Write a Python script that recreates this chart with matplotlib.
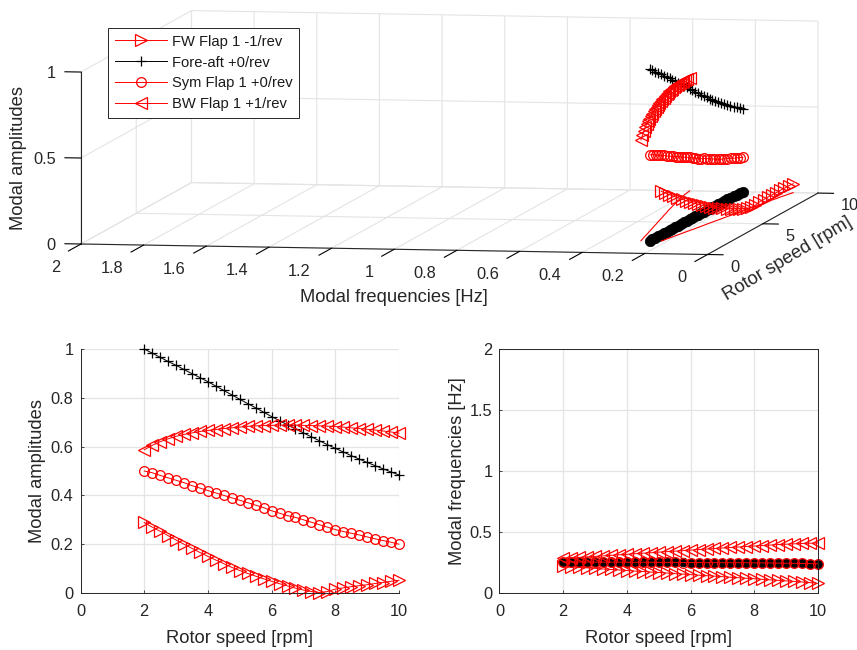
import matplotlib
matplotlib.use('Agg')
import matplotlib.pyplot as plt
from mpl_toolkits.mplot3d import proj3d

plt.rcParams['font.family'] = ['Liberation Sans', 'DejaVu Sans']

rotor = [2, 2.25, 2.5, 2.75, 3, 3.25, 3.5, 3.75, 4, 4.25, 4.5, 4.75, 5, 5.25, 5.5, 5.75, 6,
         6.25, 6.5, 6.75, 7, 7.25, 7.5, 7.75, 8, 8.25, 8.5, 8.75, 9, 9.25, 9.5, 9.75, 10]

amp_fw = [.289, .27, .253, .235, .217, .2, .183, .166, .15, .135, .12, .105, .092, .08, .069, .058, .048,
          .038, .029, .02, .012, .006, .002, .006, .016, .021, .026, .03, .034, .039, .043, .048, .052]
amp_fore = [1.0, .983, .966, .949, .933, .916, .899, .883, .866, .848, .83, .812, .794, .776, .759, .741, .723,
            .706, .689, .672, .656, .64, .624, .608, .593, .578, .563, .549, .535, .522, .509, .496, .484]
amp_sym = [.5, .493, .482, .472, .462, .452, .44, .43, .42, .41, .4, .39, .38, .37, .36, .35, .337,
           .327, .317, .31, .3, .29, .28, .27, .26, .252, .245, .238, .23, .222, .215, .208, .2]
amp_bw = [.587, .605, .62, .632, .642, .65, .656, .662, .666, .67, .674, .677, .68, .683, .685, .686, .687,
          .688, .688, .688, .687, .686, .685, .684, .682, .68, .677, .674, .671, .668, .664, .66, .655]

freq_fw = [.218, .214, .21, .206, .202, .197, .193, .189, .184, .18, .176, .172, .168, .164, .159, .155, .151,
           .146, .142, .138, .134, .129, .125, .121, .117, .112, .108, .104, .099, .095, .09, .085, .079]
freq_fore = [.255, .255, .255, .254, .254, .254, .254, .253, .253, .253, .252, .252, .252, .252, .251, .251, .25,
             .25, .25, .25, .249, .249, .249, .248, .248, .247, .247, .246, .245, .243, .242, .241, .24]
freq_sym = [.254, .254, .254, .254, .253, .253, .253, .253, .252, .252, .252, .252, .251, .251, .251, .25, .25,
            .25, .249, .249, .249, .248, .248, .248, .247, .247, .246, .245, .244, .243, .242, .241, .24]
freq_bw = [.283, .287, .292, .296, .3, .304, .309, .313, .317, .322, .326, .33, .335, .339, .343, .347, .352,
           .356, .36, .365, .369, .373, .377, .381, .385, .389, .393, .397, .4, .403, .406, .408, .41]
floor = [0] * len(rotor)

freq_ticks = [0, .2, .4, .6, .8, 1, 1.2, 1.4, 1.6, 1.8, 2]
freq_labels = ['0', '0.2', '0.4', '0.6', '0.8', '1', '1.2', '1.4', '1.6', '1.8', '2']
rotor_ticks3d = [0, 5, 10]
amp_ticks3d = [0, .5, 1]
amp_labels3d = ['0', '0.5', '1']

dark = '#262626'
light = '#e4e4e4'
W, H = 857, 650
tick_fs = 11.8
label_fs = 13.2

fig = plt.figure(figsize=(W / 100, H / 100), dpi=100)

# 3d plot, view worked out from the corners of the box in the reference
ax = fig.add_axes([0, 0, H / W, 1], projection='3d', proj_type='ortho', computed_zorder=False)
ax.set_box_aspect((636, 646, 172.8))
ax.view_init(elev=5.54, azim=-80.15)
ax.set_xlim(2, 0)
ax.set_ylim(0, 10)
ax.set_zlim(0, 1)

M = ax.get_proj()


def to_axes(f, r, z):
    x, y, _ = proj3d.proj_transform(f, r, z, M)
    return ax.transAxes.inverted().transform(ax.transData.transform((x, y)))


def label3d(f, r, z, s, ha):
    x, y, _ = proj3d.proj_transform(f, r, z, M)
    ax.text2D(x, y, s, transform=ax.transData, ha=ha, va='center', fontsize=tick_fs, color=dark)


p0 = to_axes(2, 0, 0)
p1 = to_axes(0, 10, 0)
S = (818 - 81) / (p1[0] - p0[0])
ax.set_position([(81 - S * p0[0]) / W, (H - 244 - S * p0[1]) / H, S / W, S / H])

# traces on the floor go first, the flap markers sit on top of them
ax.plot(freq_fore, rotor, floor, color='black', lw=.7, marker='o', ms=7.5, mew=.5)
ax.plot(freq_bw, rotor, floor, color='red', lw=.8)
ax.plot(freq_fw, rotor, floor, color='red', lw=.8)

ax.plot(freq_fw, rotor, amp_fw, color='red', lw=.7, marker='>', ms=8, mfc='none', mew=.9,
        label='FW Flap 1 -1/rev')
ax.plot(freq_fore, rotor, amp_fore, color='black', lw=.7, marker='+', ms=7.5, mew=.9,
        label='Fore-aft +0/rev')
ax.plot(freq_sym, rotor, amp_sym, color='red', lw=.7, marker='o', ms=7, mfc='none', mew=.9,
        label='Sym Flap 1 +0/rev')
ax.plot(freq_bw, rotor, amp_bw, color='red', lw=.7, marker='<', ms=8, mfc='none', mew=.9,
        label='BW Flap 1 +1/rev')

ax.set_xticks(freq_ticks)
ax.set_yticks(rotor_ticks3d)
ax.set_zticks(amp_ticks3d)
ax.set_xticklabels([])
ax.set_yticklabels([])
ax.set_zticklabels([])
ax.zaxis.set_ticks_position('lower')
ax.zaxis._get_tickdir = lambda position: 0

for axis, out in ((ax.xaxis, -1.42), (ax.yaxis, -.31), (ax.zaxis, .32)):
    axis.set_pane_color((1, 1, 1, 0))
    axis.pane.set_edgecolor(light)
    axis.pane.set_linewidth(.8)
    axis.line.set_color(dark)
    axis.line.set_linewidth(.8)
    axis._axinfo['grid'].update(color=light, linewidth=.8)
    axis._axinfo['tick'].update(inward_factor=0, outward_factor=out, color=dark)
    axis._axinfo['tick']['linewidth'] = {True: .8, False: .5}

# tick labels, placed off the axes in data units
for f, s in zip(freq_ticks, freq_labels):
    label3d(f, -1.87, -.067, s, 'right')
for r in rotor_ticks3d:
    label3d(-.072, r, -.072, str(r), 'left')
for z, s in zip(amp_ticks3d, amp_labels3d):
    label3d(2.08, 0, z - .012, s, 'right')

fig.text(394 / W, 1 - 298 / H, 'Modal frequencies [Hz]', ha='center', va='center', fontsize=label_fs, color=dark)
fig.text(18.5 / W, 1 - 158 / H, 'Modal amplitudes', rotation=90, ha='center', va='center', fontsize=label_fs, color=dark)
fig.text(788 / W, 1 - 259 / H, 'Rotor speed [rpm]', rotation=31, ha='center', va='center', fontsize=label_fs, color=dark)

handles, labels = ax.get_legend_handles_labels()
leg = fig.legend(handles, labels, loc='upper left', bbox_to_anchor=(108 / W, 1 - 28 / H), borderaxespad=0,
                 fontsize=10.6, handlelength=3.55, handletextpad=.34, labelspacing=.47, borderpad=.45,
                 fancybox=False, framealpha=1, edgecolor=dark, labelcolor='#1a1a1a')
leg.get_frame().set_linewidth(.7)


def style2d(a, ymax, yticks):
    a.set_xlim(0, 10)
    a.set_ylim(0, ymax)
    a.set_xticks([0, 2, 4, 6, 8, 10])
    a.set_yticks(yticks)
    a.set_yticklabels([f'{t:g}' for t in yticks])
    a.grid(True, color=light, lw=.9)
    a.set_axisbelow(True)
    a.tick_params(direction='in', length=2.3, width=.6, color=dark, labelcolor=dark, labelsize=tick_fs)
    a.tick_params(axis='x', pad=8)
    a.tick_params(axis='y', pad=5)
    for sp in a.spines.values():
        sp.set_linewidth(.7)
        sp.set_color(dark)
    a.set_xlabel('Rotor speed [rpm]', fontsize=label_fs, color=dark, labelpad=8)


# amplitudes vs rotor speed
ax2 = fig.add_axes([80.5 / W, 1 - 593 / H, 318.5 / W, 244 / H])
ax2.plot(rotor, amp_fw, color='red', lw=.7, marker='>', ms=8, mfc='none', mew=.9, clip_on=False)
ax2.plot(rotor, amp_fore, color='black', lw=.7, marker='+', ms=7.5, mew=.9, clip_on=False)
ax2.plot(rotor, amp_sym, color='red', lw=.7, marker='o', ms=7, mfc='none', mew=.9, clip_on=False)
ax2.plot(rotor, amp_bw, color='red', lw=.7, marker='<', ms=8, mfc='none', mew=.9, clip_on=False)
style2d(ax2, 1, [0, .2, .4, .6, .8, 1])
ax2.spines['top'].set_visible(False)
ax2.spines['right'].set_visible(False)
ax2.set_ylabel('Modal amplitudes', fontsize=label_fs, color=dark, labelpad=3.5)

# frequencies vs rotor speed
ax3 = fig.add_axes([499.5 / W, 1 - 593 / H, 318.5 / W, 244 / H])
ax3.plot(rotor, freq_fw, color='red', lw=.7, marker='>', ms=8, mfc='none', mew=.9, clip_on=False)
ax3.plot(rotor, freq_fore, color='black', lw=.7, marker='o', ms=6.3, mew=.5, clip_on=False)
ax3.plot(rotor, freq_sym, color='red', lw=.7, marker='o', ms=7, mfc='none', mew=.9, clip_on=False)
ax3.plot(rotor, freq_bw, color='red', lw=.7, marker='<', ms=8, mfc='none', mew=.9, clip_on=False)
style2d(ax3, 2, [0, .5, 1, 1.5, 2])
ax3.set_ylabel('Modal frequencies [Hz]', fontsize=label_fs, color=dark, labelpad=3)

fig.savefig('out.png', dpi=100)
